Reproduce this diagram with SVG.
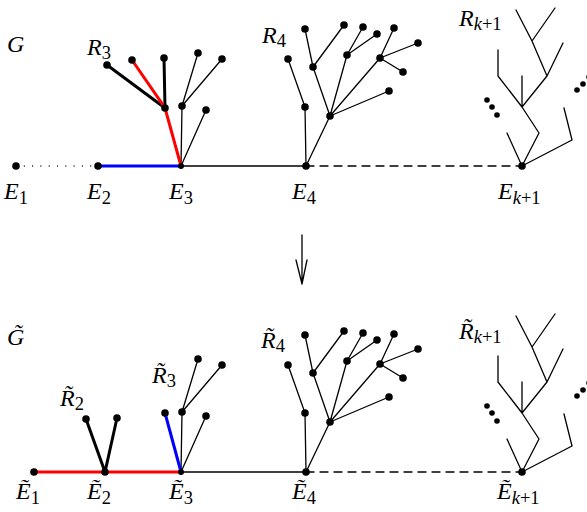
<svg xmlns="http://www.w3.org/2000/svg" width="587" height="512" viewBox="0 0 587 512">
<style>
.t{stroke:#000;stroke-width:1.3;fill:none;stroke-linecap:round;stroke-linejoin:round}
.k{stroke:#000;stroke-width:3;fill:none;stroke-linecap:round}
.r{stroke:#f00;stroke-width:3;fill:none;stroke-linecap:round}
.b{stroke:#00f;stroke-width:3;fill:none;stroke-linecap:round}
.dot{fill:#000}
.lbl{font-family:"Liberation Serif","Times New Roman",serif;font-style:italic;font-size:24px;fill:#000}
.sub{font-size:18.5px;font-style:normal}
.subi{font-size:18.5px;font-style:italic}
</style>
<defs>
<g id="rk1">
<path class="t" d="M522,166 L507,133 M522,166 L539,133 L522,107 L522,76 M522,107 L498,76 L498,50 M522,107 L547,76 L563,43 M547,76 L532,41 L516,10 M532,41 L555,8 M522,166 L572,140 L564,108"/>
<circle class="dot" cx="522" cy="166" r="3.8"/>
<circle class="dot" cx="487" cy="100" r="2.8"/>
<circle class="dot" cx="492" cy="107" r="2.8"/>
<circle class="dot" cx="497" cy="115" r="2.8"/>
<circle class="dot" cx="577" cy="90" r="2.8"/>
<circle class="dot" cx="583" cy="84" r="2.8"/>
<circle class="dot" cx="589" cy="77" r="2.8"/>
</g>
<g id="r4">
<path class="t" d="M306,166 L305,107 L288,59 M306,166 L330,116 L313,67 L305,29 M313,67 L344,25 M330,116 L347,55 L363,27 M347,55 L377,34 M330,116 L380,58 L394,28 M380,58 L418,43 M380,58 L403,72 M330,116 L389,91"/>
<g class="dot">
<circle cx="306" cy="166" r="3.8"/><circle cx="305" cy="107" r="3.8"/><circle cx="288" cy="59" r="3.8"/>
<circle cx="330" cy="116" r="3.8"/><circle cx="313" cy="67" r="3.8"/><circle cx="305" cy="29" r="3.8"/>
<circle cx="344" cy="25" r="3.8"/><circle cx="347" cy="55" r="3.8"/><circle cx="363" cy="27" r="3.8"/>
<circle cx="377" cy="34" r="3.8"/><circle cx="380" cy="58" r="3.8"/><circle cx="394" cy="28" r="3.8"/>
<circle cx="418" cy="43" r="3.8"/><circle cx="403" cy="72" r="3.8"/><circle cx="389" cy="91" r="3.8"/>
</g>
</g>
</defs>

<g id="connectors">
<path class="t" d="M16,166 L98,166" stroke-dasharray="0 8.3" stroke-width="2.2"/>
<path class="b" d="M98,166 L181,166"/>
<path class="t" d="M181,166 L306,166"/>
<path class="t" d="M306,166 L522,166" stroke-dasharray="8 6" stroke-linecap="butt"/>
<path class="r" d="M34,472 L181,472"/>
<path class="t" d="M181,472 L306,472"/>
<path class="t" d="M306,472 L522,472" stroke-dasharray="8 6" stroke-linecap="butt"/>
<path class="t" d="M302,235 L302,284 M296,260 L302,284 L307,260"/>
</g>

<g id="G">
<text class="lbl" x="7" y="52">G</text>
</g>

<g id="R3">
<path class="t" d="M181,166 L182,106 L198,53 M182,106 L222,59 M181,166 L206,110"/>
<path class="k" d="M165,108 L107,65 M165,108 L164,58"/>
<path class="r" d="M181,166 L165,108 L132,60"/>
<g class="dot">
<circle cx="107" cy="65" r="3.8"/><circle cx="132" cy="60" r="3.8"/><circle cx="164" cy="58" r="3.8"/>
<circle cx="198" cy="53" r="3.8"/><circle cx="222" cy="59" r="3.8"/><circle cx="165" cy="108" r="3.8"/>
<circle cx="182" cy="106" r="3.8"/><circle cx="206" cy="110" r="3.8"/><circle cx="181" cy="166" r="3"/>
</g>
<text class="lbl" x="87" y="55">R<tspan class="sub" dy="4">3</tspan></text>
</g>

<g id="R4">
<use href="#r4"/>
<text class="lbl" x="262" y="43">R<tspan class="sub" dy="4">4</tspan></text>
</g>

<g id="Rk1">
<use href="#rk1"/>
<text class="lbl" x="459" y="26">R<tspan class="subi" dy="4">k</tspan><tspan class="sub">+1</tspan></text>
</g>

<g id="E1"><circle class="dot" cx="16" cy="166" r="3.8"/><text class="lbl" x="4" y="199">E<tspan class="sub" dy="5">1</tspan></text></g>
<g id="E2"><circle class="dot" cx="98" cy="166" r="3.8"/><text class="lbl" x="87" y="199">E<tspan class="sub" dy="5">2</tspan></text></g>
<g id="E3"><text class="lbl" x="169" y="199">E<tspan class="sub" dy="5">3</tspan></text></g>
<g id="E4"><text class="lbl" x="292" y="199">E<tspan class="sub" dy="5">4</tspan></text></g>
<g id="Ek1"><text class="lbl" x="498" y="199">E<tspan class="subi" dy="5">k</tspan><tspan class="sub">+1</tspan></text></g>

<g id="Gt">
<text class="lbl" x="7" y="345">G&#x303;</text>
</g>

<g id="R2t">
<path class="k" d="M105,472 L86,419 M105,472 L117,418"/>
<g class="dot"><circle cx="86" cy="419" r="3.8"/><circle cx="117" cy="418" r="3.8"/></g>
<text class="lbl" x="60" y="406">R&#x303;<tspan class="sub" dy="4">2</tspan></text>
</g>

<g id="R3t">
<path class="t" d="M181,472 L182,412 L198,359 M182,412 L222,365 M181,472 L206,416"/>
<path class="b" d="M181,472 L165,413"/>
<g class="dot">
<circle cx="165" cy="413" r="3.8"/><circle cx="182" cy="412" r="3.8"/><circle cx="198" cy="359" r="3.8"/>
<circle cx="222" cy="365" r="3.8"/><circle cx="206" cy="416" r="3.8"/><circle cx="181" cy="472" r="3"/>
</g>
<text class="lbl" x="152" y="383">R&#x303;<tspan class="sub" dy="4">3</tspan></text>
</g>

<g id="R4t">
<use href="#r4" transform="translate(0,306)"/>
<text class="lbl" x="261" y="348">R&#x303;<tspan class="sub" dy="4">4</tspan></text>
</g>

<g id="Rk1t">
<use href="#rk1" transform="translate(0,306)"/>
<text class="lbl" x="459" y="339">R&#x303;<tspan class="subi" dy="4">k</tspan><tspan class="sub">+1</tspan></text>
</g>

<g id="E1t"><circle class="dot" cx="34" cy="472" r="3.8"/><text class="lbl" x="16" y="499">E&#x303;<tspan class="sub" dy="5">1</tspan></text></g>
<g id="E2t"><circle class="dot" cx="105" cy="472" r="3.8"/><text class="lbl" x="87" y="499">E&#x303;<tspan class="sub" dy="5">2</tspan></text></g>
<g id="E3t"><text class="lbl" x="169" y="499">E&#x303;<tspan class="sub" dy="5">3</tspan></text></g>
<g id="E4t"><text class="lbl" x="292" y="499">E&#x303;<tspan class="sub" dy="5">4</tspan></text></g>
<g id="Ek1t"><text class="lbl" x="497" y="499">E&#x303;<tspan class="subi" dy="5">k</tspan><tspan class="sub">+1</tspan></text></g>
</svg>
